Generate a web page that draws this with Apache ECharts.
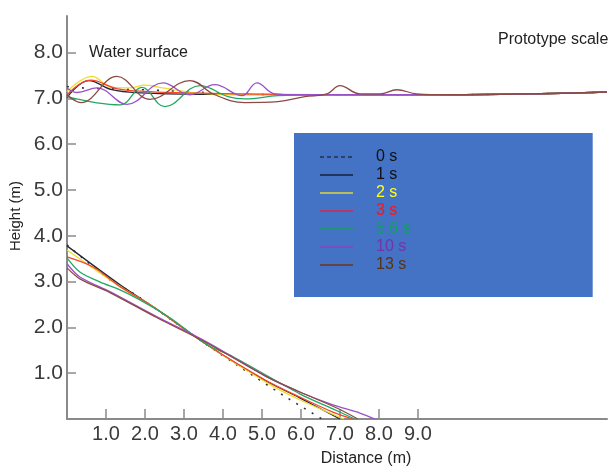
<!DOCTYPE html>
<html>
<head>
<meta charset="utf-8">
<script src="https://cdn.jsdelivr.net/npm/echarts@6/dist/echarts.min.js"></script>
<style>
  html, body { margin: 0; padding: 0; background: #fff; }
  #ec { width: 608px; height: 468px; }
</style>
</head>
<body>
<div id="ec"></div>
<script>
// 时间
var TIMES = ['0 s', '1 s', '2 s', '3 s', '5.6 s', '10 s', '13 s'];

// 刻度
var X_TICKS = [1, 2, 3, 4, 5, 6, 7, 8, 9];
var Y_TICKS = [1, 2, 3, 4, 5, 6, 7, 8];

// 水面 [distance, height]
var surf_0s = [[0, 7.26], [0.41, 7.23], [1.18, 7.21], [1.95, 7.19], [3.08, 7.15], [4.23, 7.10], [5.77, 7.08], [9.8, 7.08], [13.85, 7.14]];
var surf_1s = [[0, 7.02], [0.56, 7.39], [1.15, 7.19], [1.9, 7.12], [3.4, 7.09], [9.8, 7.08], [13.85, 7.14]];
var surf_2s = [[0, 7.15], [0.64, 7.48], [1.15, 7.24], [1.6, 7.23], [2.0, 7.29], [2.45, 7.23], [3.3, 7.12], [4.5, 7.08], [9.8, 7.08], [13.85, 7.14]];
var surf_3s = [[0, 7.08], [0.6, 7.40], [1.3, 7.21], [2.1, 7.15], [3.1, 7.12], [5.5, 7.09], [9.8, 7.08], [13.85, 7.14]];
var surf_56s = [[0, 7.04], [1.36, 6.86], [1.92, 7.24], [2.51, 6.82], [3.41, 7.28], [4.13, 7.04], [4.56, 6.99], [5.41, 7.06], [6.5, 7.08], [9.8, 7.08], [13.85, 7.14]];
var surf_10s = [[0, 7.23], [0.26, 7.13], [0.77, 7.23], [1.54, 6.87], [2.46, 7.34], [3.15, 7.08], [3.79, 7.30], [4.49, 7.06], [4.87, 7.34], [5.33, 7.10], [6.0, 7.08], [9.8, 7.08], [13.85, 7.14]];
var surf_13s = [[0, 7.08], [0.36, 6.91], [1.28, 7.48], [2.13, 6.98], [3.15, 7.39], [3.79, 7.08], [4.56, 6.91], [5.41, 6.93], [6.1, 7.04], [6.67, 7.10], [7.0, 7.28], [7.51, 7.10], [8.03, 7.10], [8.46, 7.19], [8.97, 7.10], [9.8, 7.08], [13.85, 7.14]];

// 坡面 [distance, height]
var slope_0s = [[0, 3.80], [1.1, 3.04], [1.69, 2.75], [3.59, 1.62], [4.36, 1.18], [5.54, 0.52], [6.54, 0]];
var slope_1s = [[0, 3.78], [1.36, 2.93], [2.21, 2.45], [3.59, 1.62], [4.95, 0.90], [5.97, 0.46], [7.0, 0]];
var slope_2s = [[0, 3.69], [1.36, 2.89], [2.21, 2.45], [3.59, 1.62], [5.13, 0.79], [5.97, 0.42], [7.1, 0]];
var slope_3s = [[0, 3.54], [0.67, 3.32], [1.36, 2.89], [2.21, 2.45], [3.59, 1.62], [5.13, 0.83], [5.97, 0.48], [6.82, 0.15], [7.33, 0]];
var slope_56s = [[0, 3.52], [0.33, 3.21], [0.85, 2.99], [1.36, 2.82], [1.87, 2.60], [2.64, 2.21], [3.59, 1.62], [4.26, 1.36], [5.97, 0.55], [6.82, 0.22], [7.38, 0]];
var slope_10s = [[0, 3.39], [0.33, 3.10], [1.1, 2.78], [2.31, 2.23], [3.59, 1.68], [5.13, 0.92], [5.97, 0.59], [6.82, 0.31], [7.51, 0.13], [7.9, 0]];
var slope_13s = [[0, 3.30], [0.33, 3.06], [1.1, 2.76], [2.31, 2.21], [3.59, 1.66], [5.13, 0.92], [5.97, 0.59], [6.92, 0.24], [7.46, 0]];

var SURFACE = [surf_0s, surf_1s, surf_2s, surf_3s, surf_56s, surf_10s, surf_13s];
var SLOPE = [slope_0s, slope_1s, slope_2s, slope_3s, slope_56s, slope_10s, slope_13s];

// 颜色
var LINE_COLORS = ['#333333', '#252838', '#f0dc2c', '#f4462c', '#22a865', '#9a50c8', '#8b4a42'];
var LEGEND_LINE_COLORS = ['#2a2f45', '#14203c', '#b9bd5c', '#d8284a', '#14a058', '#8a44b8', '#6e3418'];
var LEGEND_TEXT_COLORS = ['#111111', '#111111', '#ffff1e', '#ff1414', '#10a060', '#7434a8', '#5c3214'];

var FONT = '"Liberation Sans", Arial, sans-serif';

var ec = echarts.init(document.getElementById('ec'));

var series = [];
TIMES.forEach(function(name, i) {
  var dash = i === 0;
  // 水面
  series.push({
    name: name,
    type: 'line',
    data: SURFACE[i],
    smooth: 0.4,
    symbol: 'none',
    silent: true,
    itemStyle: { color: LINE_COLORS[i] },
    lineStyle: { color: LINE_COLORS[i], width: dash ? 1.6 : 1.3, type: dash ? [2, 13] : 'solid' }
  });
  // 坡面
  series.push({
    name: name,
    type: 'line',
    data: SLOPE[i],
    smooth: 0.3,
    symbol: 'none',
    silent: true,
    itemStyle: { color: LINE_COLORS[i] },
    lineStyle: { color: LINE_COLORS[i], width: dash ? 1.6 : 1.3, type: dash ? [2, 7] : 'solid' }
  });
});

// 图例 -- 只画线，不要圆点
var legendData = TIMES.map(function(name, i) {
  return {
    name: name,
    itemStyle: { color: 'rgba(0,0,0,0)', borderWidth: 0, opacity: 0 },
    lineStyle: { color: LEGEND_LINE_COLORS[i], width: i === 2 ? 2 : 1.5, type: i === 0 ? [4, 3] : 'solid', opacity: 1 },
    textStyle: { color: LEGEND_TEXT_COLORS[i] }
  };
});

var axisGray = '#8a8a8a';

var option = {
  animation: false,
  backgroundColor: '#ffffff',
  grid: { left: 67, right: 1, top: 16, bottom: 49, containLabel: false },
  xAxis: {
    type: 'value',
    min: 0,
    max: 13.85,
    axisLine: { show: true, lineStyle: { color: axisGray, width: 2 } },
    axisTick: { show: true, inside: true, length: 10, customValues: X_TICKS, lineStyle: { color: axisGray, width: 1.5 } },
    axisLabel: {
      customValues: X_TICKS,
      margin: 5,
      fontSize: 20,
      fontFamily: FONT,
      color: '#3a3a3a',
      formatter: function(v) { return v.toFixed(1); }
    },
    splitLine: { show: false }
  },
  yAxis: {
    type: 'value',
    min: 0,
    max: 8.8,
    axisLine: { show: true, lineStyle: { color: axisGray, width: 2 } },
    axisTick: { show: true, inside: true, length: 9, customValues: Y_TICKS, lineStyle: { color: axisGray, width: 1.5 } },
    axisLabel: {
      customValues: Y_TICKS,
      margin: 4,
      fontSize: 21,
      fontFamily: FONT,
      color: '#3a3a3a',
      formatter: function(v) { return v.toFixed(1); }
    },
    splitLine: { show: false }
  },
  legend: {
    orient: 'vertical',
    left: 294,
    top: 133,
    selectedMode: false,
    backgroundColor: '#4472c4',
    padding: [16, 182, 24, 25],
    itemWidth: 33,
    itemHeight: 10,
    itemGap: 2,
    textStyle: { fontSize: 16, fontFamily: FONT, lineHeight: 16, padding: [0, 0, 0, 18] },
    data: legendData
  },
  graphic: [
    { type: 'text', x: 89, y: 53, style: { text: 'Water surface', fontSize: 16, fontFamily: FONT, fill: '#222', verticalAlign: 'middle' } },
    { type: 'text', x: 498, y: 40, style: { text: 'Prototype scale', fontSize: 16, fontFamily: FONT, fill: '#222', verticalAlign: 'middle' } },
    { type: 'text', x: 366, y: 459, style: { text: 'Distance (m)', fontSize: 16, fontFamily: FONT, fill: '#222', align: 'center', verticalAlign: 'middle' } },
    { type: 'text', x: 16, y: 216, rotation: Math.PI / 2, style: { text: 'Height (m)', fontSize: 15, fontFamily: FONT, fill: '#222', align: 'center', verticalAlign: 'middle' } }
  ],
  series: series
};

ec.setOption(option);
</script>
</body>
</html>
